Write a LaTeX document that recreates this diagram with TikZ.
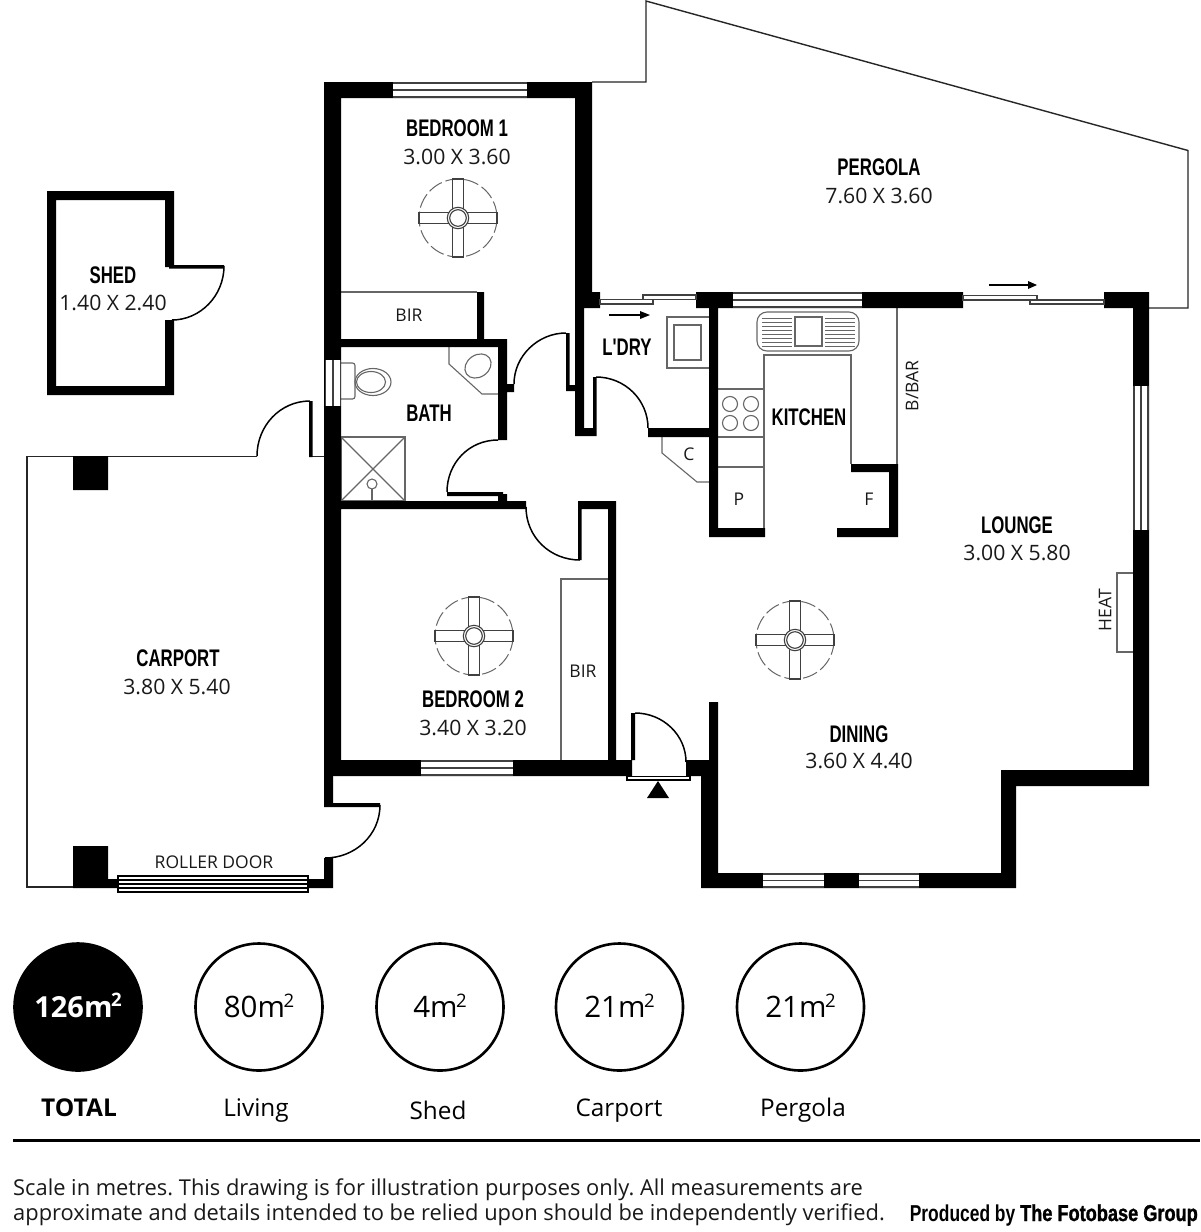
\documentclass[tikz,border=0pt]{standalone}
\usepackage{fontspec}
\setmainfont{Open Sans}
\newfontfamily\headfont[FakeStretch=0.70]{Liberation Sans Bold}
\newfontfamily\prodA[FakeStretch=0.757]{Liberation Sans Bold}
\newfontfamily\prodB[FakeStretch=0.79,FakeBold=1.2]{Liberation Sans Bold}
\newcommand\sqmark{m\kern-1.5pt\raisebox{10.5pt}[0pt][0pt]{\fontsize{18.6}{18.6}\selectfont 2}}
\definecolor{fix}{HTML}{666666}
\tikzset{
  wall/.style={fill=black},
  thinline/.style={draw=fix,line width=1.1pt},
  outline/.style={draw=black!85,line width=1.4pt},
  swing/.style={draw=black,line width=1.5pt},
  glass/.style={draw=black!75,line width=1.8pt},
  room/.style={font=\headfont\fontsize{24}{24}\selectfont,inner sep=0pt},
  dims/.style={font=\fontsize{21.2}{22}\selectfont,text=black!90,inner sep=0pt},
  small/.style={font=\fontsize{17.5}{18}\selectfont,text=black!90,inner sep=0pt},
  ring/.style={draw=black,line width=2.6pt,circle,minimum size=127pt,inner sep=0pt,font=\fontsize{29.5}{30}\selectfont},
  captxt/.style={font=\fontsize{24.3}{25}\selectfont,anchor=base,inner sep=0pt},
  note/.style={font=\fontsize{21.87}{22}\selectfont,anchor=base west,inner sep=0pt,text=black!90},
}
\newcommand\hwin[4]{%
  \fill[white] (#1,#3) rectangle (#2,#4);
  \draw[glass] (#1,#3) -- (#2,#3) (#1,{(#3+#4)/2}) -- (#2,{(#3+#4)/2}) (#1,#4) -- (#2,#4);}
\newcommand\vwin[4]{%
  \fill[white] (#1,#3) rectangle (#2,#4);
  \draw[glass] (#1,#3) -- (#1,#4) ({(#1+#2)/2},#3) -- ({(#1+#2)/2},#4) (#2,#3) -- (#2,#4);}
\newcommand\ceilfan[2]{%
  \begin{scope}[shift={(#1,#2)}]
  \draw[fix,line width=1pt,dash pattern=on 15pt off 4pt] (0,0) circle (39);
  \draw[black!75,line width=1.1pt,fill=white] (-5.5,-39) rectangle (5.5,39);
  \draw[black!75,line width=1.1pt,fill=white] (-39,-5.5) rectangle (39,5.5);
  \fill[white] (-5,-5) rectangle (5,5);
  \draw[black!75,line width=1.1pt,fill=white] (0,0) circle (10.7);
  \draw[black!75,line width=1.1pt] (0,0) circle (8.3);
  \end{scope}}
\frenchspacing
\begin{document}
\begin{tikzpicture}[x=1pt,y=-1pt]
\useasboundingbox (0,0) rectangle (1200,1232);
\fill[white] (0,0) rectangle (1200,1232);

% pergola outline
\draw[outline] (592,82) -- (646,82) -- (646,1) -- (1188,150.5) -- (1188,308) -- (1149,308);
% carport outline
\draw[outline] (73,887) -- (27,887) -- (27,456.5) -- (257,456.5);
\draw[outline] (311,456.5) -- (324,456.5);

% thin fixtures
\draw[thinline] (341,292) -- (477,292);
\draw[thinline] (561,760) -- (561,579) -- (608,579);
% toilet
\draw[thinline,rounded corners=2.5pt] (341,363) -- (355,363) -- (355,399) -- (341,399);
\draw[thinline] (373,382) ellipse (18 and 13.5);
\draw[thinline] (371,382) ellipse (14.5 and 10.5);
% vanity
\draw[thinline] (449,347) -- (449,364) -- (482,394) -- (498,394);
\draw[thinline,rotate around={35:(478,366)}] (478,366) ellipse (14 and 11);
% shower
\draw[thinline] (341,437) rectangle (405,501);
\draw[thinline] (341,437) -- (405,501) (405,437) -- (341,501);
\draw[thinline,fill=white] (372,484) circle (5);
\draw[thinline] (372,489) -- (372,501);
% laundry tub
\draw[thinline] (709,317) -- (667,317) -- (667,368) -- (709,368);
\draw[thinline] (674,325) rectangle (701,360);
% sink
\draw[thinline,rounded corners=10pt] (757,312) rectangle (859,351);
\draw[thinline] (795,317) rectangle (822,346);
\foreach \yy in {318,322,326,330,334,338,342,346}{
  \draw[fix,line width=.9pt] (762,\yy) -- (792,\yy) (825,\yy) -- (855,\yy);}
% benches
\draw[thinline] (764,537) -- (764,355) -- (851,355) -- (851,464);
\draw[thinline] (718,389) -- (764,389) (718,437) -- (764,437) (718,467) -- (764,467);
\draw[thinline] (897,308) -- (897,464);
\foreach \xx in {730,751}{\foreach \yy in {404,423}{\draw[thinline] (\xx,\yy) circle (7.5);}}
% coat cupboard
\draw[thinline] (662,437) -- (662,453) -- (697,482) -- (709,482);
% heater
\draw[thinline] (1133,573) -- (1117,573) -- (1117,652) -- (1133,652);

% walls: shed
\fill[wall] (47,191) rectangle (174,200) (47,191) rectangle (56,395) (47,386) rectangle (174,395)
  (165,191) rectangle (174,267) (165,320) rectangle (174,395) (169,265) rectangle (224,268.5);
% walls: carport
\fill[wall] (73,456) rectangle (108,490) (73,846) rectangle (108,888) (108,879) rectangle (118,888)
  (308,879) rectangle (333,888) (324,858) rectangle (333,888) (309,401) rectangle (312.5,457)
  (324,776) rectangle (333,807) (324,803) rectangle (380,807);
% walls: main
\fill[wall] (324,82) rectangle (592,98) (324,82) rectangle (341,776) (575,82) rectangle (592,292)
  (575,292) rectangle (600,308) (575,308) rectangle (584,436) (575,428) rectangle (596,436)
  (593,377) rectangle (596.5,436) (566,333) rectangle (569.5,391) (566,385) rectangle (575,391)
  (341,339) rectangle (507,347) (477,292) rectangle (484,339) (498,339) rectangle (507,440)
  (507,384) rectangle (514,392) (341,501) rectangle (526,509) (447,492) rectangle (503,496)
  (498,494) rectangle (507,501) (578,501) rectangle (616,509) (578,501) rectangle (581.5,560)
  (608,501) rectangle (616,776) (324,760) rectangle (632,776) (631,713) rectangle (635,760)
  (686,760) rectangle (718,776) (709,702) rectangle (718,776) (701,770) rectangle (718,888)
  (701,873) rectangle (1016,888) (1001,770) rectangle (1016,888) (1001,770) rectangle (1149,786)
  (1133,292) rectangle (1149,786) (1104,292) rectangle (1149,308) (733,292) rectangle (963,308)
  (696,292) rectangle (733,308) (709,308) rectangle (718,537) (648,428) rectangle (717,437)
  (709,528) rectangle (765,537) (851,464) rectangle (898,472) (889,464) rectangle (898,537)
  (837,528) rectangle (898,537);

% windows
\hwin{393}{527}{83}{97}
\hwin{421}{513}{761}{775}
\hwin{733}{862}{293}{307}
\hwin{763}{824}{874}{887}
\hwin{859}{919}{874}{887}
\vwin{1134}{1148}{386}{530}
\vwin{325.5}{340.5}{360}{406}

% sliding doors
\draw[glass,fill=white] (600,299.5) rectangle (653,304);
\draw[glass,fill=white] (643,295) rectangle (696,299.5);
\draw[glass,fill=white] (963,295.5) rectangle (1037,300);
\draw[glass,fill=white] (1030,300) rectangle (1104,304);
\coordinate (arrA) at (609,315); \coordinate (arrB) at (650,315);
\coordinate (arrC) at (989,285); \coordinate (arrD) at (1037,285);
\draw[black,line width=1.3pt] (arrA) -- (640,315);
\fill[black] (arrB) -- (640,311) -- (640,319) -- cycle;
\draw[black,line width=1.3pt] (arrC) -- (1028,285);
\fill[black] (arrD) -- (1028,281) -- (1028,289) -- cycle;

% roller door
\fill[white] (118,876) rectangle (308,892);
\draw[black,line width=1.2pt] (118,876) rectangle (308,892);
\draw[black,line width=1.2pt] (118,880) -- (308,880) (118,884) -- (308,884) (118,888) -- (308,888);

% entry
\draw[black,line width=1.4pt,fill=white] (627,776.5) rectangle (690,780);
\fill[black] (658,781) -- (647,798) -- (669,798) -- cycle;

% door swings
\draw[swing] (514,384) .. controls (514,356) and (538,333) .. (566,333);
\draw[swing] (447,492) .. controls (447,463) and (469,440) .. (498,440);
\draw[swing] (526,507) .. controls (526,537) and (550,560) .. (580,560);
\draw[swing] (596,377) .. controls (625,377) and (648,400) .. (648,428);
\draw[swing] (635,713) .. controls (663,713) and (686,735) .. (686,762);
\draw[swing] (380,805) .. controls (380,835) and (355,858) .. (325,858);
\draw[swing] (257,456) .. controls (257,426) and (280,401) .. (310,401);
\draw[swing] (224,266) .. controls (224,296) and (200,320) .. (172,320);

% fans
\ceilfan{458}{218}
\ceilfan{474}{636}
\ceilfan{795}{640}

% room labels
\node[room] (bed1) at (457,128) {BEDROOM 1};
\node[dims] (bed1d) at (457,157) {3.00 X 3.60};
\node[room] (perg) at (879,167) {PERGOLA};
\node[dims] (pergd) at (879,196) {7.60 X 3.60};
\node[room] (shed) at (113,275) {SHED};
\node[dims] (shedd) at (113,303) {1.40 X 2.40};
\node[room] (bath) at (429,413) {BATH};
\node[room] (ldry) at (627,347) {L'DRY};
\node[room] (kit) at (809,417) {KITCHEN};
\node[room] (lounge) at (1017,525) {LOUNGE};
\node[dims] (lounged) at (1017,553) {3.00 X 5.80};
\node[room] (carp) at (178,658) {CARPORT};
\node[dims] (carpd) at (177,687) {3.80 X 5.40};
\node[room] (bed2) at (473,699) {BEDROOM 2};
\node[dims] (bed2d) at (473,728) {3.40 X 3.20};
\node[room] (din) at (859,734) {DINING};
\node[dims] (dind) at (859,761) {3.60 X 4.40};
\node[small] (bir1) at (409,315) {BIR};
\node[small] (bir2) at (583,671) {BIR};
\node[small] (cc) at (689,454) {C};
\node[small] (pp) at (739,499) {P};
\node[small] (ff) at (869,499) {F};
\node[small] (roll) at (214,862) {ROLLER DOOR};
\node[small,rotate=90] (bbar) at (912,386) {B/BAR};
\node[small,rotate=90] (heat) at (1105,610) {HEAT};

% area circles
\node[ring,fill=black,text=white,font=\fontsize{29}{30}\bfseries\selectfont] (c1) at (78,1007) {126\sqmark};
\node[ring] (c2) at (259,1007) {80\sqmark};
\node[ring] (c3) at (440,1007) {4\sqmark};
\node[ring] (c4) at (619.5,1007) {21\sqmark};
\node[ring] (c5) at (800.5,1007) {21\sqmark};
\node[captxt,font=\fontsize{24.5}{25}\bfseries\selectfont] (t1) at (79,1116) {TOTAL};
\node[captxt] (t2) at (256,1116) {Living};
\node[captxt] (t3) at (438,1119) {Shed};
\node[captxt] (t4) at (619,1116) {Carport};
\node[captxt] (t5) at (803,1116) {Pergola};

% footer
\draw[black,line width=3pt] (13,1140.5) -- (1200,1140.5);
\node[note] (n1) at (13,1195) {Scale in metres. This drawing is for illustration purposes only. All measurements are};
\node[note] (n2) at (13,1220) {approximate and details intended to be relied upon should be independently verified.};
\node[anchor=base east,inner sep=0pt] (prod) at (1198,1221) {\fontsize{23}{23}\selectfont{\prodA Produced by }{\prodB The Fotobase Group}};
\end{tikzpicture}
\end{document}
